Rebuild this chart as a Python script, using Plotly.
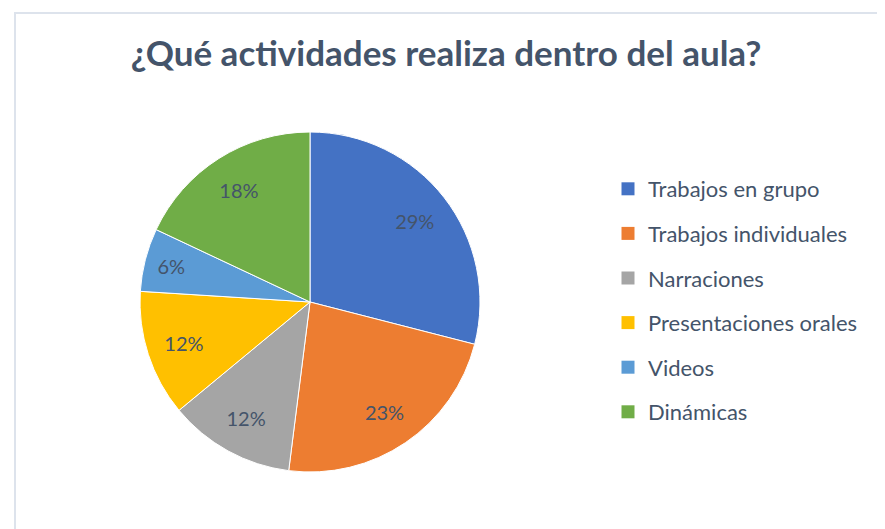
import plotly.graph_objects as go

categories = ["Trabajos en grupo", "Trabajos individuales", "Narraciones",
              "Presentaciones orales", "Videos", "Dinámicas"]
percents = [29, 23, 12, 12, 6, 18]
colors = ["#4472C4", "#ED7D31", "#A5A5A5", "#FFC000", "#5B9BD5", "#70AD47"]
title_text = "¿Qué actividades realiza dentro del aula?"

W, H = 885, 529
FONT = "Lato"
TXT = "#44546A"
dom = dict(x=[132 / W, 472 / W], y=[1 - 464 / H, 1 - 124 / H])

fig = go.Figure()
fig.add_trace(go.Pie(
    labels=categories, values=percents, sort=False, direction="clockwise",
    rotation=0, marker=dict(colors=colors, line=dict(color="white", width=1)),
    textinfo="none", domain=dom, showlegend=False, hoverinfo="label+percent",
))
fig.add_trace(go.Pie(
    labels=categories, values=percents, sort=False, direction="clockwise",
    rotation=0, hole=0.56,
    marker=dict(colors=["rgba(0,0,0,0)"] * len(colors), line=dict(width=0)),
    texttemplate="%{percent:.0%}", textposition="inside",
    insidetextorientation="horizontal",
    textfont=dict(family=FONT, size=20, color=TXT),
    domain=dom, showlegend=False, hoverinfo="skip",
))
for cat, col in zip(categories, colors):
    fig.add_trace(go.Scatter(
        x=[None], y=[None], mode="markers", name=cat, legendgroup=cat,
        marker=dict(symbol="square", size=13, color=col), showlegend=True,
    ))

fig.update_layout(
    width=W, height=H, margin=dict(l=0, r=0, t=0, b=0),
    paper_bgcolor="white", plot_bgcolor="white",
    title=dict(text="<b>" + title_text + "</b>", x=438 / W, xanchor="center",
               y=1 - 46 / H, yanchor="middle",
               font=dict(family=FONT, size=35, color=TXT)),
    xaxis=dict(visible=False), yaxis=dict(visible=False),
    legend=dict(x=600 / W, xanchor="left", y=1 - 160 / H, yanchor="top",
                font=dict(family=FONT, size=22, color=TXT),
                tracegroupgap=13, itemclick=False, itemdoubleclick=False),
    shapes=[dict(type="rect", xref="paper", yref="paper",
                 x0=7 / W, x1=882 / W, y0=-0.05, y1=1 - 5 / H,
                 line=dict(color="#DDE3EC", width=2))],
)
fig.write_html("out.html")
